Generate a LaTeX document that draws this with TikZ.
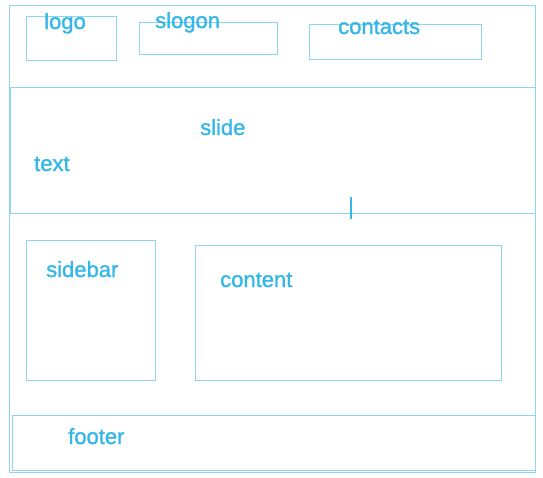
\documentclass[tikz,border=0pt]{standalone}
\usepackage{fontspec}
\setmainfont{Liberation Sans}
\newfontfamily\lblfont[FakeBold=1.2]{Liberation Sans}
\definecolor{lineblue}{RGB}{140,214,242}
\definecolor{textblue}{RGB}{52,182,232}
\tikzset{
  box/.style={draw=lineblue, line width=1.2pt, anchor=north west, inner sep=0pt},
  lbl/.style={text=textblue, anchor=base west, inner sep=0pt, font=\lblfont\fontsize{22}{26}\selectfont},
}
\begin{document}
\begin{tikzpicture}[x=1pt,y=-1pt]
\useasboundingbox (0,0) rectangle (543,477);
\node[box, minimum width=526pt, minimum height=467pt] (outer) at (9,5) {};
\node[box, minimum width=90pt, minimum height=44pt] (logobox) at (26,16) {};
\node[box, minimum width=138pt, minimum height=32pt] (sloganbox) at (139,22) {};
\node[box, minimum width=172pt, minimum height=35pt] (contactsbox) at (309,24) {};
\node[box, minimum width=525pt, minimum height=126pt] (slidebox) at (10,87) {};
\node[box, minimum width=129pt, minimum height=140pt] (sidebarbox) at (26,240) {};
\node[box, minimum width=306pt, minimum height=135pt] (contentbox) at (195,245) {};
\node[box, minimum width=523pt, minimum height=55pt] (footerbox) at (12,415) {};
\coordinate (mtop) at (351,197);
\coordinate (mbot) at (351,219);
\draw[textblue, line width=1.4pt] (mtop) -- (mbot);
\node[lbl] (logo) at (44,29) {logo};
\node[lbl] (slogon) at (155,28) {slogon};
\node[lbl] (contacts) at (338,34) {contacts};
\node[lbl] (slide) at (200,135) {slide};
\node[lbl] (text) at (34,171) {text};
\node[lbl] (sidebar) at (46,277) {sidebar};
\node[lbl] (content) at (220,287) {content};
\node[lbl] (footer) at (68,444) {footer};
\end{tikzpicture}
\end{document}
